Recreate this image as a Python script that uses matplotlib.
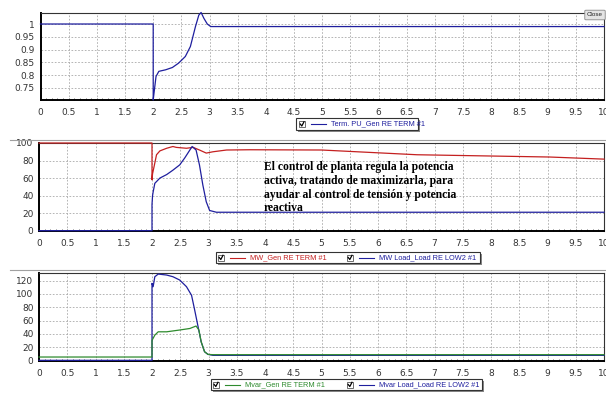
"""Recreate the three-panel PowerFactory style simulation plot."""

import numpy as np
import matplotlib.pyplot as plt
from matplotlib.patches import Rectangle, FancyBboxPatch
from matplotlib.lines import Line2D
from matplotlib.ticker import MultipleLocator, FuncFormatter

# ---- data ----
# Panel 1: terminal voltage (p.u.)
t_pu = [0, 2.0, 2.0, 2.02, 2.05, 2.10, 2.22, 2.34, 2.45, 2.57, 2.66, 2.75, 2.81, 2.85, 2.90, 2.96, 3.02, 10]
v_pu = [1.0, 1.0, 0.703, 0.74, 0.795, 0.815, 0.821, 0.83, 0.847, 0.873, 0.912, 0.99, 1.035, 1.045, 1.022, 1.0, 0.99, 0.99]

# Panel 2: active power (MW)
t_mw_gen = [0, 2.0, 2.0, 2.01, 2.03, 2.08, 2.14, 2.26, 2.37, 2.43, 2.61, 2.73, 2.84, 2.96, 3.08, 3.32, 3.73, 5.0, 6.69, 9.04, 10]
mw_gen = [100, 100, 58, 65, 71, 86.6, 91, 94, 96, 95, 94, 95, 92, 88.5, 90, 92, 92.3, 92, 86.6, 84, 81.6]
t_mw_load = [0, 2.0, 2.0, 2.01, 2.02, 2.05, 2.14, 2.26, 2.37, 2.49, 2.58, 2.67, 2.71, 2.78, 2.84, 2.90, 2.96, 3.02, 3.14, 10]
mw_load = [0, 0, 30, 40, 44, 54, 60, 64, 69, 75, 83, 92, 96, 92, 75, 52, 33, 23, 21, 21]

# Panel 3: reactive power (Mvar)
t_mvar_gen = [0, 2.0, 2.0, 2.05, 2.11, 2.26, 2.49, 2.67, 2.78, 2.83, 2.87, 2.93, 2.99, 3.08, 10]
mvar_gen = [5, 5, 30, 38, 43, 43, 45.7, 48, 51.7, 45.7, 28, 13, 9, 8.5, 8.5]
t_mvar_load = [0, 2.0, 2.0, 2.02, 2.05, 2.11, 2.26, 2.37, 2.49, 2.61, 2.70, 2.75, 2.81, 2.87, 2.93, 2.99, 3.08, 10]
mvar_load = [0, 0, 116, 111, 126, 130, 128.5, 126, 121, 111, 98, 78, 53, 28, 13, 9, 7.5, 7.5]

x_ticks = np.arange(0, 10.5, 0.5)
pu_ticks = [0.75, 0.8, 0.85, 0.9, 0.95, 1]
mw_ticks = [0, 20, 40, 60, 80, 100]
mvar_ticks = [0, 20, 40, 60, 80, 100, 120]

note = ("El control de planta regula la potencia\n"
        "activa, tratando de maximizarla, para\n"
        "ayudar al control de tensión y potencia\n"
        "reactiva")

W, H = 606, 397
fig = plt.figure(figsize=(W / 100, H / 100), dpi=100)
fig.patch.set_facecolor("white")


def px(x, y):
    """pixel (from top-left) -> figure fraction"""
    return x / W, 1 - y / H


def make_ax(left, top, right, bottom):
    l, t = px(left, top)
    r, b = px(right, bottom)
    ax = fig.add_axes([l, b, r - l, t - b])
    ax.set_xlim(0, 10)
    ax.xaxis.set_major_locator(MultipleLocator(0.5))
    ax.xaxis.set_minor_locator(MultipleLocator(0.1))
    ax.xaxis.set_major_formatter(FuncFormatter(lambda v, p: f"{v:g}"))
    ax.grid(True, which="major", color="#a8a8a8", linestyle=(0, (2, 2)), linewidth=0.6)
    ax.tick_params(axis="both", which="both", direction="in", labelsize=6.5,
                   colors="#333333", length=1.5, width=0.5)
    ax.tick_params(axis="x", pad=6)
    ax.tick_params(axis="y", pad=4, length=0)
    for s in ["left", "bottom"]:
        ax.spines[s].set_linewidth(1.4)
        ax.spines[s].set_color("black")
    for s in ["top", "right"]:
        ax.spines[s].set_linewidth(0.8)
        ax.spines[s].set_color("#333333")
    return ax


def legend_box(x0, y0, x1, y1, items):
    """PowerFactory-style legend: box with shadow, checkbox, line sample, label"""
    l, t = px(x0, y0)
    r, b = px(x1, y1)
    sl, st = px(x0 + 2, y0 + 2)
    sr, sb = px(x1 + 2, y1 + 2)
    fig.patches.append(Rectangle((sl, sb), sr - sl, st - sb, transform=fig.transFigure,
                                 facecolor="#888888", edgecolor="none", zorder=1))
    fig.patches.append(Rectangle((l, b), r - l, t - b, transform=fig.transFigure,
                                 facecolor="white", edgecolor="#333333", linewidth=0.8, zorder=2))
    ym = (y0 + y1) / 2
    for xs, color, label in items:
        cl, ct = px(xs, ym - 3)
        cr, cb = px(xs + 6, ym + 3)
        fig.patches.append(Rectangle((cl, cb), cr - cl, ct - cb, transform=fig.transFigure,
                                     facecolor="white", edgecolor="#555555", linewidth=0.6, zorder=3))
        fig.lines.append(Line2D([px(xs + 1.2, 0)[0], px(xs + 2.8, 0)[0], px(xs + 5, 0)[0]],
                                [px(0, ym)[1], px(0, ym + 2)[1], px(0, ym - 2.2)[1]],
                                transform=fig.transFigure, color="black", linewidth=0.9, zorder=4))
        fig.lines.append(Line2D([px(xs + 12, 0)[0], px(xs + 27, 0)[0]], [px(0, ym)[1]] * 2,
                                transform=fig.transFigure, color=color, linewidth=0.8, zorder=4))
        fig.text(*px(xs + 32, ym), label, color=color, fontsize=5.3, va="center", ha="left",
                 family="Liberation Sans", zorder=5)


blue = "#1f1f9e"
red = "#c42020"
green = "#2e8b2e"
line_kw = dict(linewidth=0.9, clip_on=False, zorder=3)

# Panel 1
ax1 = make_ax(40.5, 13, 604, 100)
ax1.plot(t_pu, v_pu, color=blue, **line_kw)
ax1.set_ylim(0.703, 1.043)
ax1.set_yticks(pu_ticks)
ax1.yaxis.set_major_formatter(FuncFormatter(lambda v, p: f"{v:g}"))
legend_box(296, 118, 418, 130, [(299, blue, "Term. PU_Gen RE TERM #1")])

# Panel 2
ax2 = make_ax(39, 143, 604, 231)
ax2.plot(t_mw_gen, mw_gen, color=red, **line_kw)
ax2.plot(t_mw_load, mw_load, color=blue, **line_kw)
ax2.set_ylim(-0.4, 100)
ax2.set_yticks(mw_ticks)
legend_box(216, 252, 480, 263, [(218, red, "MW_Gen RE TERM #1"),
                                (347, blue, "MW Load_Load RE LOW2 #1")])
fig.text(*px(264, 161), note, fontsize=8.4, fontweight="bold", family="Liberation Serif",
         va="top", ha="left", linespacing=1.2, color="black")

# Panel 3
ax3 = make_ax(39, 273, 604, 361)
ax3.plot(t_mvar_load, mvar_load, color=blue, **line_kw)
ax3.plot(t_mvar_gen, mvar_gen, color=green, **line_kw)
ax3.set_ylim(-1, 131.6)
ax3.set_yticks(mvar_ticks)
legend_box(211, 379, 482, 390, [(213, green, "Mvar_Gen RE TERM #1"),
                                (347, blue, "Mvar Load_Load RE LOW2 #1")])

# separators between the panels
for yy in (140, 270):
    fig.lines.append(Line2D([px(10, 0)[0], 1], [px(0, yy)[1]] * 2, transform=fig.transFigure,
                            color="#a0a0a0", linewidth=0.8))

# "Close" button top-right
bl, bt = px(586, 11)
br, bb = px(604, 19)
fig.patches.append(FancyBboxPatch((bl, bb), br - bl, bt - bb, boxstyle="round,pad=0.002",
                                  transform=fig.transFigure, facecolor="#e4e4e4",
                                  edgecolor="#888888", linewidth=0.6, zorder=5))
fig.text(*px(595, 15), "Close", fontsize=4.5, ha="center", va="center", color="#222222",
         family="Liberation Sans", zorder=6)

fig.savefig("out.png", dpi=100)
